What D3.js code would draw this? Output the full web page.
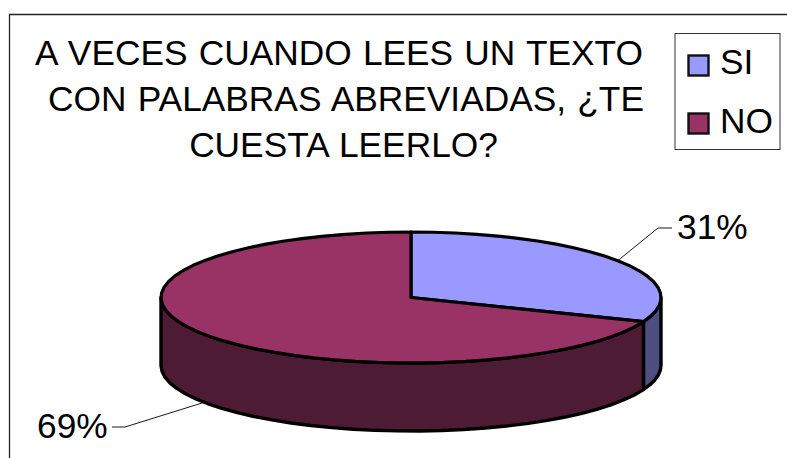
<!DOCTYPE html>
<html>
<head>
<meta charset="utf-8">
<script src="https://cdn.jsdelivr.net/npm/d3@7"></script>
<style>
  html, body { margin: 0; padding: 0; background: #fff; overflow: hidden; }
  text { font-family: "Liberation Sans", Arial, sans-serif; fill: #000; }
</style>
</head>
<body>
<div id="chart"></div>
<script>
const svg_width = 787;
const svg_height = 458;

// chart data
const categories = ["SI", "NO"];
const values = [31, 69];
const valueLabels = ["31%", "69%"];
const titleLines = ["A VECES CUANDO LEES UN TEXTO", "CON PALABRAS ABREVIADAS, ¿TE", "CUESTA LEERLO?"];

const topColors = ["#9999ff", "#993366"];
const sideColors = ["#4d4d80", "#4d1b33"];

const svg = d3.select("#chart")
  .append("svg")
    .attr("width", svg_width)
    .attr("height", svg_height);

// chart frame, only the top and left edges are in the picture
svg.append("path")
    .attr("d", "M9.5,458V14.5H787")
    .attr("fill", "none")
    .attr("stroke", "#222")
    .attr("stroke-width", 1.3);

// title, the lines are not quite centred on each other in the original
const titleX = [339, 346, 343.5];
svg.append("g").selectAll("text")
  .data(titleLines)
  .join("text")
    .attr("x", (d, i) => titleX[i])
    .attr("y", (d, i) => 64.5 + i * 46)
    .attr("text-anchor", "middle")
    .attr("font-size", 35.3)
    .attr("word-spacing", 1.4)
    .text(d => d);

// pie position
const cx = 411, cy = 297.5, rx = 250, ry = 65.5, depth = 68;

const xScale = d3.scaleLinear().domain([-1, 1]).range([cx - rx, cx + rx]);
const yScale = d3.scaleLinear().domain([-1, 1]).range([cy - ry, cy + ry]);

const arcs = d3.pie().sort(null)(values);

// rim point at a pie angle (0 = top, clockwise)
const rim = (a, dy = 0) => [xScale(Math.sin(a)), yScale(-Math.cos(a)) + dy];

function rimPoints(a0, a1, dy = 0) {
    const n = Math.max(2, Math.ceil((a1 - a0) / 0.09));
    return d3.range(n + 1).map(i => rim(a0 + (a1 - a0) * i / n, dy));
}

const line = d3.line();

// side walls, only the front half of the rim (right to left) shows
arcs.forEach((d, i) => {
    const a0 = Math.max(d.startAngle, Math.PI / 2);
    const a1 = Math.min(d.endAngle, Math.PI * 1.5);
    if (a1 <= a0) return;
    const pts = rimPoints(a0, a1).concat(rimPoints(a0, a1, depth).reverse());
    svg.append("path")
        .attr("d", line(pts) + "Z")
        .attr("fill", sideColors[i])
        .attr("stroke", "#000")
        .attr("stroke-width", 3.4)
        .attr("stroke-linejoin", "round");
});

// top faces
arcs.forEach((d, i) => {
    const pts = [[cx, cy]].concat(rimPoints(d.startAngle, d.endAngle));
    svg.append("path")
        .attr("d", line(pts) + "Z")
        .attr("fill", topColors[i])
        .attr("stroke", "#000")
        .attr("stroke-width", 3.2)
        .attr("stroke-linejoin", "round");
});

// value labels and their leader lines, each one starts at the slice's mid angle
const labelPos = [[677, 239], [37, 438]];
const leaders = [
    [rim((arcs[0].startAngle + arcs[0].endAngle) / 2), [658, 228], [672, 228]],
    [[112, 427], [125, 427], rim((arcs[1].startAngle + arcs[1].endAngle) / 2, depth)]
];

valueLabels.forEach((d, i) => {
    svg.append("text")
        .attr("x", labelPos[i][0])
        .attr("y", labelPos[i][1])
        .attr("font-size", 35.3)
        .text(d);
    svg.append("path")
        .attr("d", line(leaders[i]))
        .attr("fill", "none")
        .attr("stroke", "#000")
        .attr("stroke-width", 0.9);
});

// legend
svg.append("rect")
    .attr("x", 675)
    .attr("y", 33.5)
    .attr("width", 105)
    .attr("height", 116)
    .attr("fill", "#fff")
    .attr("stroke", "#333")
    .attr("stroke-width", 1);

categories.forEach((d, i) => {
    svg.append("rect")
        .attr("x", 688.5)
        .attr("y", 55.5 + i * 58)
        .attr("width", 20)
        .attr("height", 20)
        .attr("fill", topColors[i])
        .attr("stroke", "#111")
        .attr("stroke-width", 2.4);
    svg.append("text")
        .attr("x", 720)
        .attr("y", 74 + i * 58.5)
        .attr("font-size", 35.3)
        .text(d);
});
</script>
</body>
</html>
